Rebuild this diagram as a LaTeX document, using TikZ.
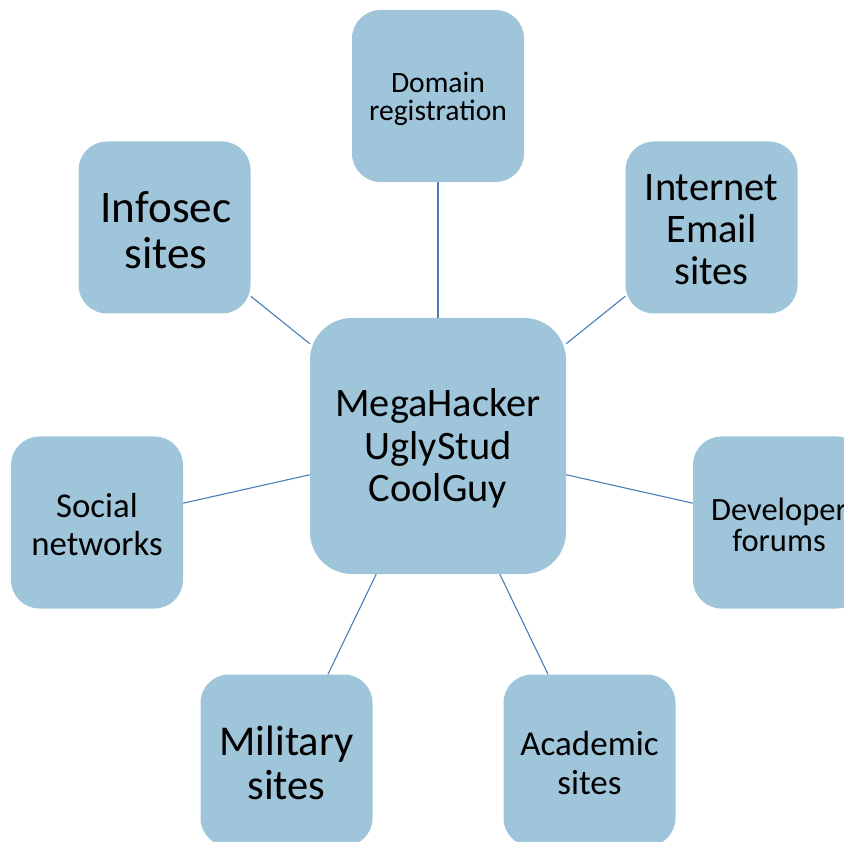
\documentclass[tikz,border=0pt]{standalone}
\usepackage{fontspec}
\setmainfont{Carlito}
\definecolor{boxfill}{RGB}{159,197,218}
\definecolor{linkblue}{RGB}{74,126,187}
\newcommand{\fs}[2]{\fontsize{#1}{#2}\selectfont}
\tikzset{
  hub/.style={fill=boxfill, draw=none, rounded corners=42pt,
    minimum width=256pt, minimum height=256pt, inner sep=0pt},
  leaf/.style={fill=boxfill, draw=none, rounded corners=28.5pt,
    minimum width=172pt, minimum height=172pt, inner sep=0pt},
  caption/.style={align=center, inner sep=0pt, yshift=-2.5pt},
  link/.style={draw=linkblue, line width=1.1pt},
}
\begin{document}
\begin{tikzpicture}[x=1pt, y=-1pt]
  \useasboundingbox (0,0) rectangle (844,842);
  \clip (0,0) rectangle (844,842);

  % central node
  \node[hub] (cen) at (438,446) {};

  % satellites on a circle of radius 350 around the hub
  \node[leaf] (dom)  at (438,96) {};
  \node[leaf] (info) at (164.5,227.5) {};
  \node[leaf] (mail) at (711.5,227.5) {};
  \node[leaf] (soc)  at (97,522.5) {};
  \node[leaf] (dev)  at (779,522.5) {};
  \node[leaf] (mil)  at (286.5,760.5) {};
  \node[leaf] (aca)  at (589.5,760.5) {};

  % texts
  \node[caption, font=\fs{40.4}{42.5}] (cen-t)  at (cen)  {MegaHacker\\UglyStud\\CoolGuy};
  \node[caption, font=\fs{29.6}{28}]   (dom-t)  at (dom)  {Domain\\registration};
  \node[caption, font=\fs{45.2}{46.5}, xshift=1.5pt] (info-t) at (info) {Infosec\\sites};
  \node[caption, font=\fs{40.5}{42}]   (mail-t) at (mail) {Internet\\Email\\sites};
  \node[caption, font=\fs{34.8}{38}]   (soc-t)  at (soc)  {Social\\networks};
  \node[caption, font=\fs{32.5}{31.5}] (dev-t)  at (dev)  {Developer\\forums};
  \node[caption, font=\fs{42.5}{44}]   (mil-t)  at (mil)  {Military\\sites};
  \node[caption, font=\fs{35}{38.5}]   (aca-t)  at (aca)  {Academic\\sites};

  % spokes
  \foreach \n in {dom,info,mail,soc,dev,mil,aca}
    \draw[link] (cen) -- (\n);
\end{tikzpicture}
\end{document}
